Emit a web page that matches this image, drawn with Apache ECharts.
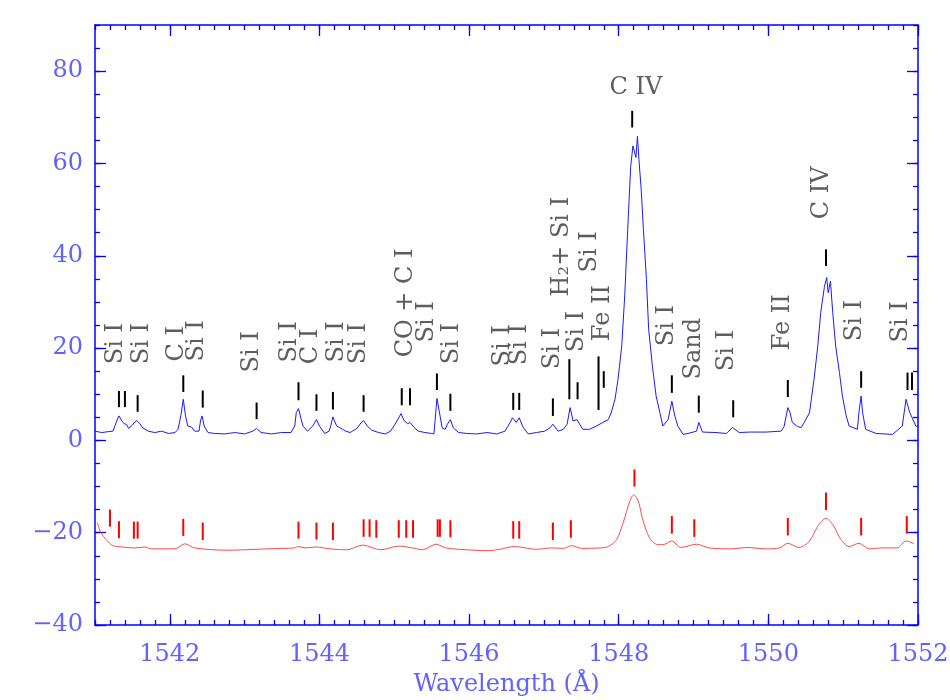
<!DOCTYPE html>
<html>
<head>
<meta charset="utf-8">
<script src="https://cdn.jsdelivr.net/npm/echarts@6/dist/echarts.min.js"></script>
<style>html,body{margin:0;padding:0;background:#fff}#c{width:950px;height:700px}</style>
</head>
<body>
<div id="c"></div>
<script>
// ---- Data ----
var obsWl = [1541.00,1541.09,1541.18,1541.24,1541.29,1541.32,1541.36,1541.39,1541.42,1541.45,1541.50,1541.53,1541.56,1541.60,1541.64,1541.71,1541.80,1541.89,1541.98,1542.07,1542.11,1542.15,1542.18,1542.21,1542.24,1542.29,1542.33,1542.39,1542.41,1542.43,1542.46,1542.51,1542.60,1542.73,1542.87,1543.00,1543.11,1543.16,1543.22,1543.36,1543.49,1543.62,1543.67,1543.69,1543.72,1543.75,1543.78,1543.84,1543.91,1543.96,1544.00,1544.07,1544.13,1544.15,1544.18,1544.23,1544.28,1544.35,1544.41,1544.50,1544.56,1544.59,1544.64,1544.70,1544.79,1544.88,1544.95,1545.01,1545.06,1545.09,1545.13,1545.18,1545.21,1545.26,1545.32,1545.41,1545.50,1545.53,1545.56,1545.57,1545.60,1545.64,1545.68,1545.71,1545.75,1545.79,1545.86,1545.97,1546.10,1546.24,1546.37,1546.48,1546.55,1546.58,1546.63,1546.67,1546.72,1546.79,1546.90,1547.01,1547.08,1547.12,1547.19,1547.26,1547.31,1547.35,1547.39,1547.44,1547.52,1547.61,1547.70,1547.79,1547.86,1547.90,1547.95,1547.99,1548.04,1548.08,1548.12,1548.16,1548.19,1548.21,1548.23,1548.25,1548.27,1548.30,1548.33,1548.37,1548.40,1548.45,1548.50,1548.55,1548.59,1548.66,1548.71,1548.75,1548.79,1548.86,1548.95,1549.04,1549.07,1549.12,1549.30,1549.44,1549.52,1549.61,1549.75,1549.97,1550.17,1550.21,1550.26,1550.29,1550.32,1550.39,1550.44,1550.48,1550.55,1550.61,1550.66,1550.70,1550.75,1550.78,1550.80,1550.83,1550.86,1550.90,1550.95,1550.99,1551.04,1551.08,1551.19,1551.21,1551.24,1551.26,1551.30,1551.44,1551.66,1551.79,1551.84,1551.89,1551.92,1551.97,1552.00];
var obsFlux = [2.0,1.7,1.9,2.0,4.2,5.3,4.2,3.6,3.5,2.6,3.3,4.0,4.3,3.6,2.7,2.0,1.7,2.0,1.5,1.7,2.4,5.6,8.9,5.3,3.1,2.9,2.0,2.0,4.2,5.3,3.1,1.7,1.5,1.4,1.7,1.4,2.0,2.6,1.7,1.4,1.7,1.7,3.1,6.0,6.9,4.9,3.1,2.0,3.1,4.5,3.1,1.5,2.0,3.1,5.1,3.1,2.7,2.0,1.7,2.6,3.9,4.3,3.1,2.2,1.7,1.4,2.0,3.5,4.9,5.8,4.3,3.6,3.9,2.9,2.0,1.7,1.5,1.4,7.1,9.1,6.4,2.7,2.4,3.5,4.5,2.7,1.7,1.5,1.4,1.7,1.4,2.0,3.9,4.9,3.9,4.9,2.9,1.4,1.7,2.0,2.7,3.5,2.0,2.4,3.5,7.1,4.2,4.5,2.4,2.4,3.1,3.9,4.5,6.0,8.9,13.2,20.4,31.3,45.7,59.4,63.8,64.1,61.3,65.9,60.9,54.4,45.7,34.9,24.1,16.1,9.6,6.0,3.1,4.5,8.5,5.3,3.1,1.3,1.6,2.0,3.9,1.8,1.7,1.5,2.8,1.7,1.8,1.8,2.0,3.0,7.1,6.0,3.9,3.0,2.8,3.9,6.0,13.2,20.4,27.7,33.4,35.3,32.0,34.5,27.7,20.4,14.7,9.6,5.3,3.1,2.4,6.0,9.6,6.0,2.4,1.5,1.3,3.1,8.9,6.0,5.0,3.1,3.0];

var modelWl = [1541.03,1541.08,1541.15,1541.24,1541.37,1541.53,1541.67,1541.75,1542.07,1542.20,1542.33,1542.78,1543.00,1543.31,1543.67,1543.71,1543.82,1543.96,1544.14,1544.36,1544.58,1544.82,1545.06,1545.24,1545.38,1545.56,1545.69,1545.96,1546.27,1546.41,1546.61,1546.90,1547.10,1547.26,1547.37,1547.50,1547.75,1547.86,1547.97,1548.06,1548.15,1548.20,1548.26,1548.32,1548.41,1548.50,1548.59,1548.71,1548.83,1549.04,1549.21,1549.52,1549.70,1549.97,1550.15,1550.26,1550.41,1550.55,1550.66,1550.77,1550.86,1550.97,1551.08,1551.21,1551.35,1551.52,1551.72,1551.84,1551.95];
var modelFlux = [-17.8,-20.0,-21.5,-22.8,-23.1,-23.3,-23.1,-23.5,-23.5,-22.4,-23.3,-23.8,-23.7,-23.5,-23.3,-23.0,-23.3,-23.1,-23.5,-23.7,-22.7,-23.7,-22.9,-23.3,-23.7,-22.5,-23.3,-23.7,-23.9,-23.6,-23.0,-23.6,-23.3,-23.4,-22.8,-23.4,-23.3,-23.0,-21.5,-17.8,-13.1,-11.8,-13.1,-17.1,-21.1,-22.5,-22.6,-21.8,-23.2,-22.5,-23.3,-23.5,-23.2,-23.5,-23.3,-22.3,-23.2,-21.8,-18.6,-16.9,-18.2,-21.5,-23.0,-22.3,-23.5,-23.3,-23.3,-21.8,-22.4];

var blackTickWl = [1541.32,1541.40,1541.57,1542.18,1542.44,1543.16,1543.72,1543.96,1544.18,1544.59,1545.10,1545.21,1545.57,1545.75,1546.59,1546.67,1547.12,1547.34,1547.45,1547.73,1547.80,1548.18,1548.71,1549.07,1549.53,1550.26,1550.77,1551.24,1551.86,1551.92];
var blackTickLo = [7.2,7.2,6.2,10.5,7.1,4.6,8.7,6.4,6.7,6.2,7.6,7.6,10.9,6.4,6.6,6.6,5.3,8.9,8.9,6.6,11.4,67.8,10.3,6.0,5.0,9.4,37.8,11.4,10.9,10.9];
var blackTickHi = [10.7,10.7,9.8,14.1,10.8,8.2,12.6,10.0,10.5,9.8,11.3,11.3,14.5,10.1,10.3,10.3,9.1,17.6,12.6,18.2,15.0,71.4,14.1,9.7,8.7,13.1,41.4,15.0,14.7,14.7];

var redTickWl = [1541.20,1541.32,1541.52,1541.57,1542.18,1542.44,1543.72,1543.96,1544.18,1544.59,1544.67,1544.76,1545.06,1545.16,1545.25,1545.58,1545.61,1545.75,1546.59,1546.67,1547.12,1547.36,1548.21,1548.71,1549.01,1550.26,1550.77,1551.24,1551.85];
var redTickLo = [-18.7,-21.2,-21.3,-21.3,-20.7,-21.6,-21.3,-21.5,-21.6,-20.9,-20.9,-21.1,-21.1,-21.1,-21.1,-20.9,-20.9,-21.0,-21.3,-21.3,-21.6,-21.1,-10.0,-20.2,-20.9,-20.6,-15.1,-20.6,-20.2];
var redTickHi = [-15.0,-17.5,-17.6,-17.6,-17.0,-17.8,-17.6,-17.8,-17.8,-17.1,-17.1,-17.3,-17.3,-17.3,-17.3,-17.1,-17.1,-17.3,-17.5,-17.5,-17.8,-17.3,-6.3,-16.4,-17.1,-16.8,-11.3,-16.8,-16.4];

var lineLabels = ["Si I","Si I","C I","Si I","Si I","Si I","C I","Si I","Si I","CO + C I","Si I","Si I","Si I","Si I","Si I","Si I","H\u2082+ Si I","Si I","Fe II","Si I","Sand","Si I","Fe II","C IV","Si I","Si I"];
var lineLabelWl = [1541.28,1541.63,1542.09,1542.36,1543.09,1543.60,1543.89,1544.23,1544.52,1545.15,1545.44,1545.77,1546.45,1546.68,1547.12,1547.44,1547.24,1547.61,1547.79,1548.64,1549.00,1549.45,1550.19,1550.71,1551.16,1551.77];
var lineLabelY = [16.5,16.5,17.1,17.1,14.7,16.9,16.5,16.9,16.5,18.0,21.2,16.5,16.0,16.3,15.4,19.1,31.2,36.4,21.5,20.4,13.2,15.0,19.5,47.9,21.5,21.2];
var topLabel = "C IV", topLabelWl = 1548.23, topLabelY = 76.5;

var xMajorTicks = [1542,1544,1546,1548,1550,1552];
var yMajorTicks = [-40,-20,0,20,40,60,80];
var xTitle = "Wavelength (\u00C5)";

// ---- Chart ----
var AX = '#0000ff', LBL = '#6262ff', FONT = 'DejaVu Serif';
function pairs(a,b){return a.map(function(v,i){return [v,b[i]];});}
function triples(a,b,c){return a.map(function(v,i){return [v,b[i],c[i]];});}

function xAx(pos, main){
  return {type:'value', position:pos, min:1541, max:1552, gridIndex:0,
    axisLine:{show:main, onZero:false, lineStyle:{color:AX, width:1.5}},
    splitLine:{show:false},
    axisTick:main?{show:true, inside:true, length:11, customValues:xMajorTicks, lineStyle:{color:AX,width:1.3}}
                 :{show:true, inside:true, length:5, lineStyle:{color:AX,width:1.3}},
    minorTick:main?{show:false}:{show:true, splitNumber:5, length:5, lineStyle:{color:AX,width:1.3}},
    interval: main?undefined:1,
    axisLabel:(main&&pos==='bottom')?{show:true, customValues:xMajorTicks, margin:18, color:LBL, fontFamily:FONT, fontSize:24,
      formatter:function(v){return String(v);}}:{show:false},
    name:(main&&pos==='bottom')?xTitle:'', nameLocation:'middle', nameGap:48,
    nameTextStyle:{color:LBL, fontFamily:FONT, fontSize:24}
  };
}
function yAx(pos, main){
  return {type:'value', position:pos, min:-40, max:90, gridIndex:0,
    axisLine:{show:main, onZero:false, lineStyle:{color:AX, width:1.5}},
    splitLine:{show:false},
    axisTick:main?{show:true, inside:true, length:11, customValues:yMajorTicks, lineStyle:{color:AX,width:1.3}}
                 :{show:true, inside:true, length:5, lineStyle:{color:AX,width:1.3}},
    interval: main?undefined:5,
    axisLabel:(main&&pos==='left')?{show:true, customValues:yMajorTicks, margin:12, color:LBL, fontFamily:FONT, fontSize:24,
      formatter:function(v){return v<0?'\u2212'+Math.abs(v):String(v);}}:{show:false}
  };
}

var chart = echarts.init(document.getElementById('c'));
chart.setOption({
  animation:false,
  backgroundColor:'#fff',
  grid:{left:95, right:32, top:25, bottom:75, containLabel:false, outerBoundsMode:'none'},
  xAxis:[xAx('bottom',true), xAx('bottom',false), xAx('top',true), xAx('top',false)],
  yAxis:[yAx('left',true), yAx('left',false), yAx('right',true), yAx('right',false)],
  series:[
    {type:'line', data:pairs(obsWl,obsFlux), showSymbol:false, symbol:'none',
     lineStyle:{color:'#1a1aff', width:1}, z:3},
    {type:'line', data:pairs(modelWl,modelFlux), showSymbol:false, symbol:'none', smooth:0.3,
     lineStyle:{color:'#ff4a4a', width:1}, z:3},
    {type:'custom', data:triples(blackTickWl,blackTickLo,blackTickHi), clip:false, z:4,
     renderItem:function(p,api){var a=api.coord([api.value(0),api.value(1)]), b=api.coord([api.value(0),api.value(2)]);
       return {type:'line', shape:{x1:a[0],y1:a[1],x2:b[0],y2:b[1]}, style:{stroke:'#000', lineWidth:2}};}},
    {type:'custom', data:triples(redTickWl,redTickLo,redTickHi), clip:false, z:4,
     renderItem:function(p,api){var a=api.coord([api.value(0),api.value(1)]), b=api.coord([api.value(0),api.value(2)]);
       return {type:'line', shape:{x1:a[0],y1:a[1],x2:b[0],y2:b[1]}, style:{stroke:'#ff0000', lineWidth:2}};}},
    {type:'custom', data:lineLabelWl.map(function(w,i){return [w,lineLabelY[i],i];}), clip:false, z:5,
     renderItem:function(p,api){var a=api.coord([api.value(0),api.value(1)]);
       return {type:'text', x:a[0], y:a[1], rotation:Math.PI/2,
         style:{text:lineLabels[api.value(2)], x:0, y:0, align:'left', verticalAlign:'middle', fill:'#5e5e5e', font:'24px "DejaVu Serif"'}};}},
    {type:'custom', data:[[topLabelWl, topLabelY]], clip:false, z:5,
     renderItem:function(p,api){var a=api.coord([api.value(0),api.value(1)]);
       return {type:'text', x:a[0], y:a[1],
         style:{text:topLabel, x:0, y:0, align:'center', verticalAlign:'middle', fill:'#5e5e5e', font:'24px "DejaVu Serif"'}};}}
  ]
});
</script>
</body>
</html>
